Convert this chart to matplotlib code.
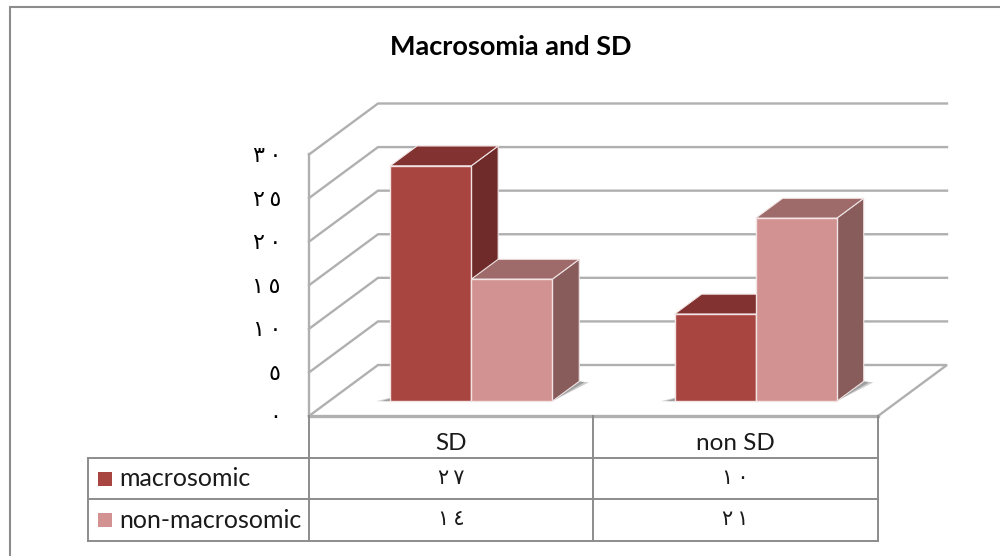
import matplotlib
matplotlib.use('Agg')
import matplotlib.pyplot as plt
from matplotlib.patches import Polygon

categories = ['SD', 'non SD']
series_names = ['macrosomic', 'non-macrosomic']
macrosomic = [27, 10]
non_macrosomic = [14, 21]
y_ticks = [0, 5, 10, 15, 20, 25, 30]
title = 'Macrosomia and SD'

front_colors = ['#A94541', '#D29291']
top_colors = ['#823230', '#9E6A6A']
side_colors = ['#6E2B29', '#875C5B']
grid_color = '#B0B0B0'
table_color = '#8C8C8C'

plt.rcParams['font.family'] = ['Lato', 'DejaVu Sans']

W, H = 1000, 556
FX0, FX1, FY0, FY1 = 309, 878, 416, 154.5  # front plane of the chart in pixels
DX, DY = 69, 51  # depth of the floor


def arabic(n):
    # arabic-indic digits, spaced out a little like the original
    return '\u2009'.join(str(n).translate(str.maketrans('0123456789', '٠١٢٣٤٥٦٧٨٩')))


fig = plt.figure(figsize=(W / 100, H / 100), dpi=100, facecolor='white')
ax = fig.add_axes([FX0 / W, 1 - FY0 / H, (FX1 - FX0) / W, (FY0 - FY1) / H])
ax.set_xlim(0, len(categories))
ax.set_ylim(y_ticks[0], y_ticks[-1])
ax.axis('off')

sx = len(categories) / (FX1 - FX0)
sy = y_ticks[-1] / (FY0 - FY1)


def pt(x, y, depth=0.0):
    # depth 0 = front of floor, 1 = back wall
    return (x + depth * DX * sx, y + depth * DY * sy)


def poly(points, color, z, ec='none', lw=0, alpha=None):
    ax.add_patch(Polygon(points, closed=True, fc=color, ec=ec, lw=lw, zorder=z,
                         clip_on=False, joinstyle='miter', alpha=alpha))


# walls and grid
for v in y_ticks:
    pts = [pt(0, v), pt(0, v, 1), pt(2, v, 1)]
    if v == 0:
        pts.append(pt(2, v))
    ax.plot(*zip(*pts), color=grid_color, lw=1.7, clip_on=False, zorder=1,
            solid_joinstyle='miter')
ax.plot(*zip(pt(0, 0), pt(0, y_ticks[-1])), color=grid_color, lw=1.7, clip_on=False, zorder=1)
ax.plot(*zip(pt(0, 0), pt(2, 0)), color=grid_color, lw=2.4, clip_on=False, zorder=1)

# bars
bar_w = 0.285
d0, d1 = 0.29, 0.68
for i in range(len(categories)):
    vals = [macrosomic[i], non_macrosomic[i]]
    left = i + 0.5 - bar_w
    right = i + 0.5 + bar_w
    # soft shadow on the floor
    for grow, a in [(1.0, 0.35), (0.6, 0.5)]:
        poly([pt(left - 14 * grow * sx, 0, d0), pt(right, 0, d0),
              pt(right + 11 * grow * sx, 0, d1 - 0.02), pt(right, 0, d1),
              pt(left, 0, d0 + 0.1)], '#707070', 2, alpha=a)
    for j, v in enumerate(vals):
        x0 = left + j * bar_w
        x1 = x0 + bar_w
        z = 3 + j * 2 + i * 4
        poly([pt(x1, 0, d0), pt(x1, 0, d1), pt(x1, v, d1), pt(x1, v, d0)], side_colors[j], z, '#F0E4E4', 0.8)
        poly([pt(x0, v, d0), pt(x1, v, d0), pt(x1, v, d1), pt(x0, v, d1)], top_colors[j], z, '#F0E4E4', 0.8)
        poly([pt(x0, 0, d0), pt(x1, 0, d0), pt(x1, v, d0), pt(x0, v, d0)], front_colors[j], z + 0.5, '#F2E4E4', 1.0)

# pixel overlay for the frame, table and text
ov = fig.add_axes([0, 0, 1, 1], zorder=5)
ov.set_xlim(0, W)
ov.set_ylim(H, 0)
ov.axis('off')
ov.patch.set_alpha(0)

ov.plot([9.5, 9.5, W], [H, 6.5, 6.5], color='#8C8C8C', lw=1.5, solid_joinstyle='miter')
ov.text(510.5, 47, title, ha='center', va='center', fontsize=19.5, fontweight='bold', color='black')

for v in y_ticks:
    yy = FY0 - v / sy
    ov.text(281, yy + 7.5, arabic(v), ha='right', va='baseline', fontsize=16, color='black', family=['DejaVu Sans'])

# data table
rows_y = [416, 458, 499, 541]
cols_x = [FX0, 593, FX1]
for y in rows_y[1:]:
    ov.plot([88, FX1], [y, y], color=table_color, lw=1.4)
for x in cols_x:
    ov.plot([x, x], [rows_y[0], rows_y[-1]], color=table_color, lw=1.4)
ov.plot([88, 88], [rows_y[1], rows_y[-1]], color=table_color, lw=1.4)

for i, c in enumerate(categories):
    cx = (cols_x[i] + cols_x[i + 1]) / 2
    ov.text(cx, 443, c, ha='center', va='center', fontsize=17.5, color='#1A1A1A')
    ov.text(cx, 484.5, arabic(macrosomic[i]), ha='center', va='baseline', fontsize=15, color='#1A1A1A', family=['DejaVu Sans'])
    ov.text(cx, 525, arabic(non_macrosomic[i]), ha='center', va='baseline', fontsize=15, color='#1A1A1A', family=['DejaVu Sans'])

for k, name in enumerate(series_names):
    yc = (rows_y[k + 1] + rows_y[k + 2]) / 2
    ov.scatter([105], [yc], marker='s', s=95, color=front_colors[k], linewidths=0)
    ov.text(119, yc, name, ha='left', va='center', fontsize=18, color='#1A1A1A')

fig.savefig('out.png', dpi=100, facecolor='white')
